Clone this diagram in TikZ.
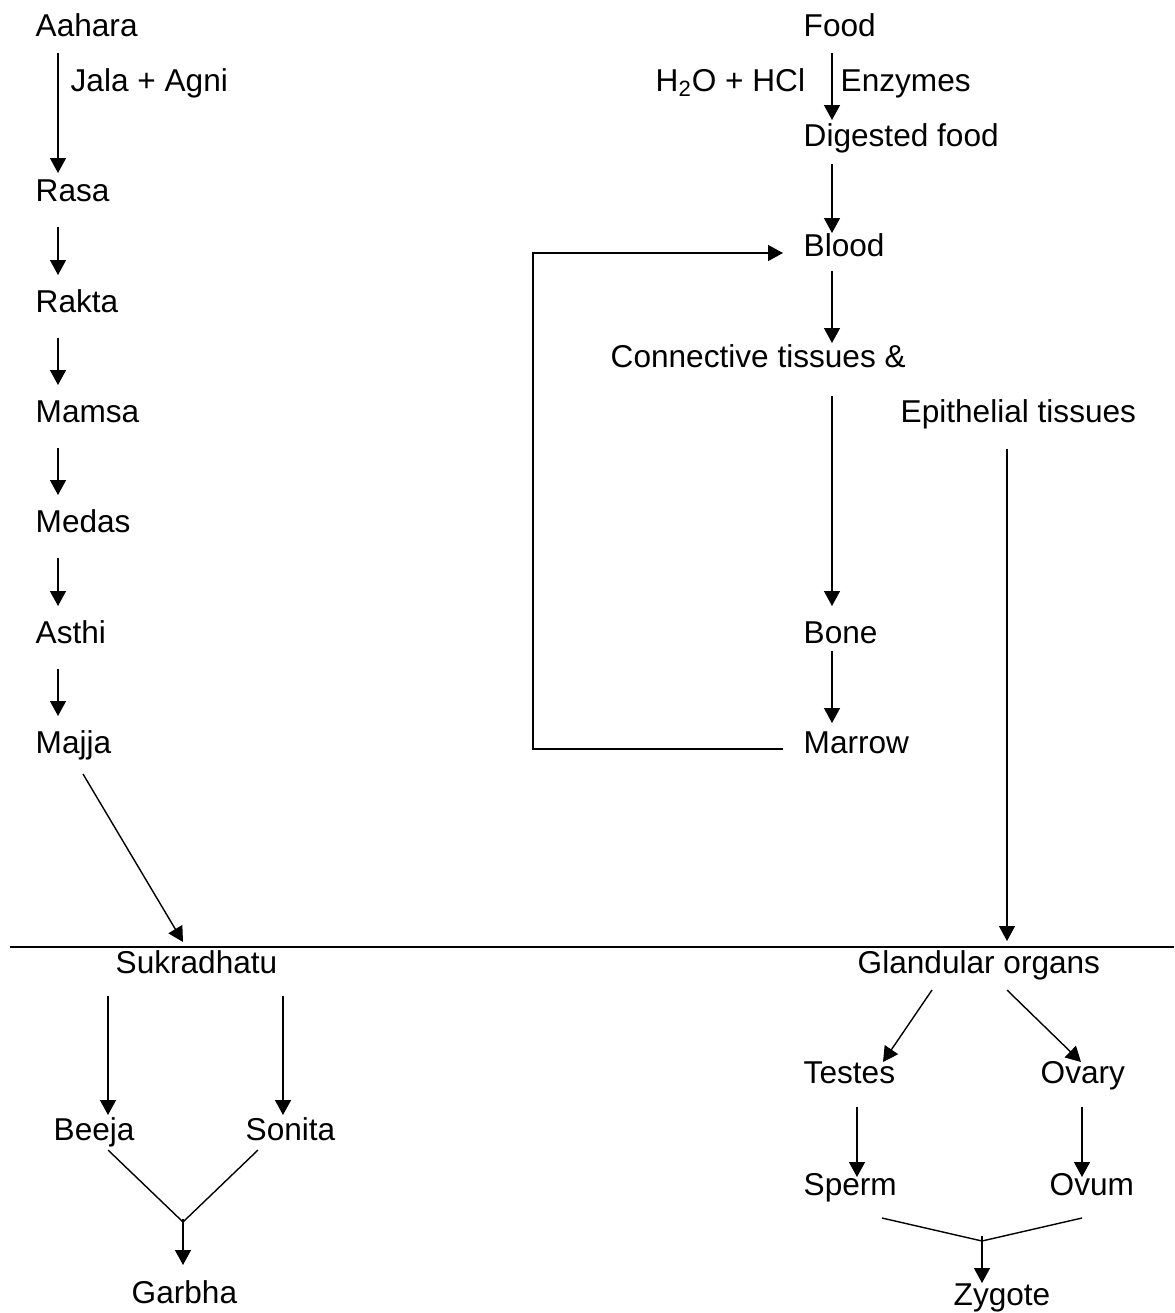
\documentclass[tikz,border=0pt]{standalone}
\usepackage{fontspec}
\setmainfont{Liberation Sans}
\usetikzlibrary{arrows.meta}

\begin{document}
\begin{tikzpicture}[x=0.5pt,y=-0.5pt,line width=0.7pt]
\tikzstyle{word}=[anchor=base west, inner sep=0pt, font=\fontsize{15.8pt}{19pt}\selectfont]
\tikzstyle{arr}=[-{Triangle[length=7.5pt,width=8pt]}]

\useasboundingbox (0,0) rectangle (1174,1313);

% left column
\node[word] (Aahara) at (35,36) {Aahara};
\node[word] (Jala) at (70,91) {Jala + Agni};
\node[word] (Rasa) at (35,201) {Rasa};
\node[word] (Rakta) at (35,312) {Rakta};
\node[word] (Mamsa) at (35,422) {Mamsa};
\node[word] (Medas) at (35,532) {Medas};
\node[word] (Asthi) at (35,643) {Asthi};
\node[word] (Majja) at (35,753) {Majja};

% right column
\node[word] (Food) at (803,36) {Food};
\node[word] (HCl) at (655,91) {H\textsubscript{2}O + HCl};
\node[word] (Enzymes) at (840,91) {Enzymes};
\node[word] (Digested) at (803,146) {Digested food};
\node[word] (Blood) at (803,256) {Blood};
\node[word] (Connective) at (610,367) {Connective tissues \&};
\node[word] (Epithelial) at (900,422) {Epithelial tissues};
\node[word] (Bone) at (803,643) {Bone};
\node[word] (Marrow) at (803,753) {Marrow};

% below the line
\node[word] (Sukra) at (115,973) {Sukradhatu};
\node[word] (Beeja) at (53,1140) {Beeja};
\node[word] (Sonita) at (245,1140) {Sonita};
\node[word] (Garbha) at (131,1303) {Garbha};
\node[word] (Glandular) at (857,973) {Glandular organs};
\node[word] (Testes) at (803,1083) {Testes};
\node[word] (Ovary) at (1040,1083) {Ovary};
\node[word] (Sperm) at (803,1195) {Sperm};
\node[word] (Ovum) at (1049,1195) {Ovum};
\node[word] (Zygote) at (953,1305) {Zygote};

\coordinate (divL) at (10,947);
\coordinate (divR) at (1174,947);
\coordinate (bj) at (183,1222);
\coordinate (zj) at (982,1241);

\draw[line width=1pt] (divL) -- (divR);

\draw[arr] ([shift={(23,17)}]Aahara.base west) -- ([shift={(23,-28)}]Rasa.base west);
\draw[arr] ([shift={(23,26)}]Rasa.base west) -- ([shift={(23,-37)}]Rakta.base west);
\draw[arr] ([shift={(23,26)}]Rakta.base west) -- ([shift={(23,-37)}]Mamsa.base west);
\draw[arr] ([shift={(23,26)}]Mamsa.base west) -- ([shift={(23,-37)}]Medas.base west);
\draw[arr] ([shift={(23,26)}]Medas.base west) -- ([shift={(23,-37)}]Asthi.base west);
\draw[arr] ([shift={(23,26)}]Asthi.base west) -- ([shift={(23,-37)}]Majja.base west);
\draw[arr] ([shift={(48,21)}]Majja.base west) -- ([shift={(68,-31)}]Sukra.base west);

\draw[arr] ([shift={(29,17)}]Food.base west) -- ([shift={(29,-26)}]Digested.base west);
\draw[arr] ([shift={(29,18)}]Digested.base west) -- ([shift={(29,-23)}]Blood.base west);
\draw[arr] ([shift={(29,15)}]Blood.base west) -- ([shift={(222,-24)}]Connective.base west);
\draw[arr] ([shift={(222,29)}]Connective.base west) -- ([shift={(29,-37)}]Bone.base west);
\draw[arr] ([shift={(29,8)}]Bone.base west) -- ([shift={(29,-30)}]Marrow.base west);
\draw[arr] ([shift={(-20,-4)}]Marrow.base west) -- (533,749) -- (533,253)
    -- ([shift={(-20,-3)}]Blood.base west);
\draw[arr] ([shift={(107,27)}]Epithelial.base west) -- ([shift={(150,-32)}]Glandular.base west);

\draw[arr] ([shift={(-7,23)}]Sukra.base west) -- ([shift={(55,-25)}]Beeja.base west);
\draw[arr] ([shift={(168,23)}]Sukra.base west) -- ([shift={(38,-25)}]Sonita.base west);
\draw ([shift={(55,10)}]Beeja.base west) -- (bj);
\draw ([shift={(13,10)}]Sonita.base west) -- (bj);
\draw[arr] ([yshift=1.5pt]bj) -- ([shift={(52,-38)}]Garbha.base west);

\draw[arr] ([shift={(75,17)}]Glandular.base west) -- ([shift={(80,-21)}]Testes.base west);
\draw[arr] ([shift={(150,17)}]Glandular.base west) -- ([shift={(41,-21)}]Ovary.base west);
\draw[arr] ([shift={(54,24)}]Testes.base west) -- ([shift={(54,-18)}]Sperm.base west);
\draw[arr] ([shift={(42,24)}]Ovary.base west) -- ([shift={(33,-18)}]Ovum.base west);
\draw ([shift={(79,23)}]Sperm.base west) -- (zj);
\draw ([shift={(33,23)}]Ovum.base west) -- (zj);
\draw[arr] ([yshift=2.5pt]zj) -- ([shift={(29,-22)}]Zygote.base west);
\end{tikzpicture}
\end{document}
